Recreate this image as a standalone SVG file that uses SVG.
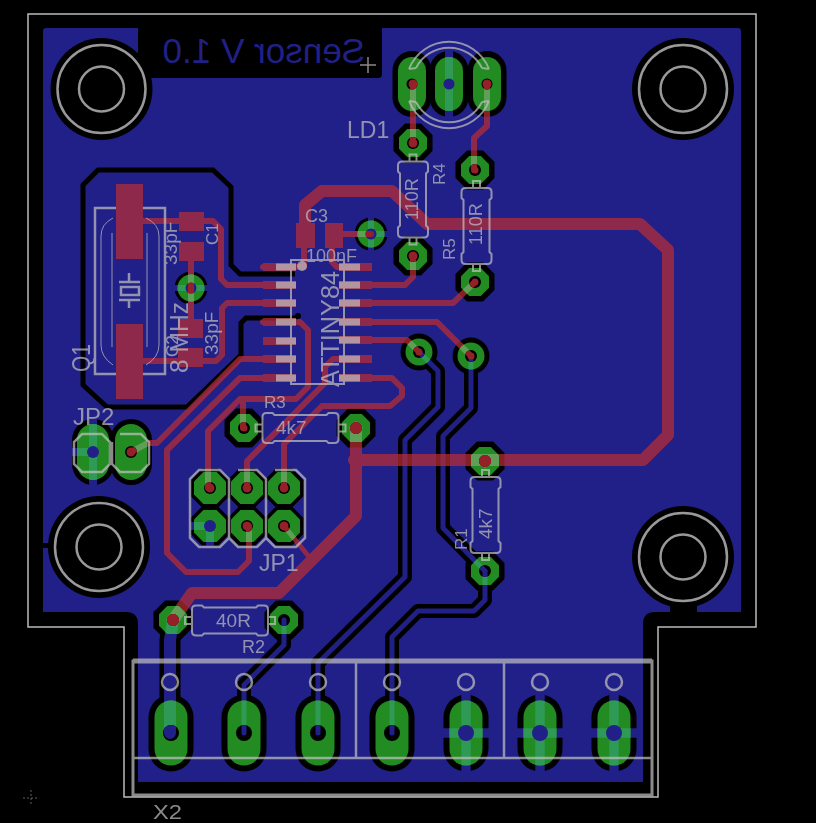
<svg xmlns="http://www.w3.org/2000/svg" width="816" height="823" viewBox="0 0 816 823">
<style>
text{font-family:"Liberation Sans",Arial,sans-serif}
.silk{fill:none;stroke:#c0c0c0;stroke-width:2}
.silk text{fill:#c0c0c0;stroke:none}
.thin{stroke-width:1}
#top path,#botT path,#botE path,#spokes path{fill:none;stroke-linecap:round;stroke-linejoin:round}
#top path.p,#spokes path{stroke-linecap:butt}
.g{fill:#228b22}
.k{fill:#000}
.b{fill:#202088}
.ring{fill:none;stroke:#999;stroke-width:2.5}
</style>
<defs>
<polygon id="o14" points="-14,-5.8 -5.8,-14 5.8,-14 14,-5.8 14,5.8 5.8,14 -5.8,14 -14,5.8"/>
<polygon id="o16" points="-16,-6.6 -6.6,-16 6.6,-16 16,-6.6 16,6.6 6.6,16 -6.6,16 -16,6.6"/>
<polygon id="k19" points="-19.5,-8 -8,-19.5 8,-19.5 19.5,-8 19.5,8 8,19.5 -8,19.5 -19.5,8"/>
<circle id="c13" r="13.5"/><circle id="k18" r="18.5"/><circle id="k16" r="16.5"/>
<rect id="ovL" x="-14" y="-27" width="28" height="54" rx="14"/>
<rect id="ovLk" x="-19.5" y="-33" width="39" height="66" rx="19.5"/>
<rect id="ovJ" x="-16" y="-28" width="32" height="56" rx="16"/>
<rect id="ovJk" x="-21" y="-33" width="42" height="66" rx="21"/>
<rect id="ovX" x="-16.5" y="-32.5" width="33" height="65" rx="16.5"/>
<rect id="ovXk" x="-22.5" y="-38.5" width="45" height="77" rx="22.5"/>
<circle id="d5" r="5.5"/><circle id="d6" r="6"/><circle id="d8" r="8"/>
<g id="hole"><circle class="ring" r="44"/><circle class="ring" r="22.5" stroke-width="3"/></g>
<path id="res" d="M-34,-15H-28L-26,-13H26L28,-15H34Q38,-15 38,-11V11Q38,15 34,15H28L26,13H-26L-28,15H-34Q-38,15 -38,11V-11Q-38,-15 -34,-15ZM-45,-3.5H-38V3.5H-45ZM38,-3.5H45V3.5H38Z"/>
<!-- bottom layer traces -->
<g id="botT">
<path d="M419,352L438,371V407L405,440V577L318,663V733"/>
<path d="M471,356V408L443,436V528L485,571"/>
<path d="M485,571V600L474,611H418L392,637V733"/>
<path d="M284,620V645L244,685V733"/>
</g>
<g id="botE"><path d="M173,620L170,640V733"/></g>
<g id="spokes">
<path stroke-width="8" d="M449,46V122"/>
<path stroke-width="8" d="M93,416V488M68,452H93"/>
<path stroke-width="8" d="M188,526H210M210,526V549"/>
<path stroke-width="6" d="M350,234H392M371,213V255"/>
<path stroke-width="6" d="M170,288H212M191,267V309"/>
<path stroke-width="9.5" d="M466,692V774M441,733H491M540,692V774M515,733H565M614,692V774M589,733H639"/>
</g>
<!-- top layer traces and smd pads -->
<g id="top">
<g stroke-width="8">
<path class="p" d="M263,267H296M263,285H296M263,303H296M263,322H296M263,341H296M263,359H296M263,378H296"/>
<path class="p" d="M339,267H372M339,285H372M339,303H372M339,322H372M339,340H372M339,359H372M339,378H372"/>
</g>
<path class="p" stroke-width="27" d="M129.5,184V259M129.5,324V399"/>
<path class="p" stroke-width="19" d="M179,221.500H204M179,251.500H204M178,328.500H203M178,357.500H203"/>
<path class="p" stroke-width="19" d="M305.500,223V248"/>
<path class="p" stroke-width="25" d="M325,235.500H343"/>
<g stroke-width="6">
<path d="M143,221H213L221,229V279L227,285H263"/>
<path d="M143,361H216L222,355V308L227,303H263"/>
<path d="M191,261V319"/>
<path d="M263,267H304V248"/>
<path d="M343,234H371"/>
<path d="M332,248V262L337,267H345"/>
<path d="M263,322H300L308,330V387L296,399H240L208,431V488"/>
<path d="M243,399V428"/>
<path d="M263,359H240L157,443H148L131,452"/>
<path d="M263,378H240L167,450V553L186,572H238L249,561V526"/>
<path d="M372,285H405L413,277V256"/>
<path d="M372,303H453L475,282"/>
<path d="M372,322H437L471,356"/>
<path d="M372,340H407L419,352"/>
<path d="M372,378H392L402,388V396L390,406H322L284,444V488"/>
<path d="M339,359H333L325,367V383L247,461V488"/>
<path d="M413,84V143"/>
<path d="M487,84V126L474,138V170"/>
<path stroke-width="5" d="M284,526L310,558"/>
</g>
<g stroke-width="12">
<path d="M305,235V205L322,191H392L427,224H640L668,250V435L643,460H354"/>
<path d="M356,428V516L279,593H192L173,620"/>
</g>
<g stroke-width="9"><path d="M413,84h0M487,84h0M413,143h0M413,256h0M210,488h0M247,488h0M284,488h0M247,526h0M284,526h0M131,452h0"/></g>
<g stroke-width="7"><path d="M475,170h0M475,282h0M419,352h0M471,356h0M244,428h0"/></g>
<g stroke-width="13"><path d="M356,428h0M485,461h0M173,620h0"/></g>
</g>
<clipPath id="pc">
<use href="#ovL" x="412" y="84"/><use href="#ovL" x="449" y="84"/><use href="#ovL" x="487" y="84"/>
<use href="#o14" x="413" y="143"/><use href="#o14" x="413" y="256"/><use href="#o14" x="475" y="170"/><use href="#o14" x="475" y="282"/>
<use href="#o14" x="356" y="428"/><use href="#o14" x="485" y="461"/><use href="#o14" x="485" y="571"/><use href="#o14" x="244" y="428"/><use href="#o14" x="173" y="620"/><use href="#o14" x="284" y="620"/>
<use href="#o16" x="210" y="488"/><use href="#o16" x="247" y="488"/><use href="#o16" x="284" y="488"/><use href="#o16" x="210" y="526"/><use href="#o16" x="247" y="526"/><use href="#o16" x="284" y="526"/>
<use href="#c13" x="419" y="352"/><use href="#c13" x="471" y="356"/><use href="#c13" x="371" y="234"/><use href="#c13" x="191" y="288"/>
<use href="#ovJ" x="93" y="452"/><use href="#ovJ" x="131" y="452"/>
<use href="#ovX" x="171" y="733"/><use href="#ovX" x="244" y="733"/><use href="#ovX" x="318" y="733"/><use href="#ovX" x="392" y="733"/><use href="#ovX" x="466" y="733"/><use href="#ovX" x="540" y="733"/><use href="#ovX" x="614" y="733"/>
</clipPath>
<clipPath id="dc">
<use href="#d5" x="412" y="84"/><use href="#d5" x="487" y="84"/>
<use href="#d6" x="413" y="143"/><use href="#d6" x="413" y="256"/><use href="#d6" x="475" y="170"/><use href="#d6" x="475" y="282"/>
<use href="#d6" x="356" y="428"/><use href="#d6" x="485" y="461"/><use href="#d6" x="485" y="571"/><use href="#d6" x="244" y="428"/><use href="#d6" x="173" y="620"/><use href="#d6" x="284" y="620"/>
<use href="#d6" x="210" y="488"/><use href="#d6" x="247" y="488"/><use href="#d6" x="284" y="488"/><use href="#d6" x="247" y="526"/><use href="#d6" x="284" y="526"/>
<use href="#d6" x="419" y="352"/><use href="#d6" x="471" y="356"/><use href="#d5" x="371" y="234"/><use href="#d5" x="191" y="288"/><use href="#d6" x="131" y="452"/>
<use href="#d8" x="171" y="733"/><use href="#d8" x="244" y="733"/><use href="#d8" x="318" y="733"/><use href="#d8" x="392" y="733"/>
</clipPath>
</defs>

<rect width="816" height="823" fill="#000"/>
<path id="outline" d="M28,14H756V627H658V797H124V627H28Z" fill="none" stroke="#bbb" stroke-width="1.500"/>
<path id="pour" class="b" d="M46,28H738Q741,28 741,31V612H655Q643,612 643,624V782H138V624Q138,612 126,612H43V31Q43,28 46,28Z"/>

<g id="keepouts" class="k">
<circle cx="101.500" cy="89" r="51"/><circle cx="683" cy="89" r="51"/><circle cx="99" cy="547" r="51"/><circle cx="683" cy="557" r="51"/>
<rect x="670" y="590" width="27" height="24"/><rect x="42" y="543" width="10" height="5"/>
<rect x="138" y="20" width="244" height="58" rx="4"/>
<use href="#ovLk" x="412" y="84"/><use href="#ovLk" x="449" y="84"/><use href="#ovLk" x="487" y="84"/>
<use href="#k19" x="413" y="143"/><use href="#k19" x="413" y="256"/><use href="#k19" x="475" y="170"/><use href="#k19" x="475" y="282"/>
<use href="#k19" x="356" y="428"/><use href="#k19" x="485" y="461"/><use href="#k19" x="485" y="571"/><use href="#k19" x="244" y="428"/><use href="#k19" x="173" y="620"/><use href="#k19" x="284" y="620"/>
<use href="#k19" x="210" y="488"/><use href="#k19" x="247" y="488"/><use href="#k19" x="284" y="488"/><use href="#k19" x="210" y="526"/><use href="#k19" x="247" y="526"/><use href="#k19" x="284" y="526"/>
<use href="#k18" x="419" y="352"/><use href="#k18" x="471" y="356"/><use href="#k16" x="371" y="234"/><use href="#k16" x="191" y="288"/>
<use href="#ovJk" x="93" y="452"/><use href="#ovJk" x="131" y="452"/>
<use href="#ovXk" x="171" y="733"/><use href="#ovXk" x="244" y="733"/><use href="#ovXk" x="318" y="733"/><use href="#ovXk" x="392" y="733"/><use href="#ovXk" x="466" y="733"/><use href="#ovXk" x="540" y="733"/><use href="#ovXk" x="614" y="733"/>
</g>
<path id="crystal-keepout" fill="none" stroke="#000" stroke-width="5" d="M295,274H240L231,265V187L213,170H98L83,185V385L107,407H187L241,355V323L246,318H298"/>
<circle cx="298" cy="316" r="3"/>

<g id="bottom-traces">
<use href="#botT" stroke="#000" stroke-width="14"/>
<use href="#botE" stroke="#000" stroke-width="21"/>
<use href="#botT" stroke="#202088" stroke-width="5"/>
<use href="#botE" stroke="#202088" stroke-width="12"/>
<use href="#spokes" stroke="#202088"/>
</g>
<text x="0" y="0" transform="translate(365,63) scale(-1,1)" font-size="35" fill="#202088">Sensor V 1.0</text>

<use id="top-traces" href="#top" style="stroke:rgb(190,46,50);opacity:.7"/>

<g id="pads" class="g">
<use href="#ovL" x="412" y="84"/><use href="#ovL" x="449" y="84"/><use href="#ovL" x="487" y="84"/>
<use href="#o14" x="413" y="143"/><use href="#o14" x="413" y="256"/><use href="#o14" x="475" y="170"/><use href="#o14" x="475" y="282"/>
<use href="#o14" x="356" y="428"/><use href="#o14" x="485" y="461"/><use href="#o14" x="485" y="571"/><use href="#o14" x="244" y="428"/><use href="#o14" x="173" y="620"/><use href="#o14" x="284" y="620"/>
<use href="#o16" x="210" y="488"/><use href="#o16" x="247" y="488"/><use href="#o16" x="284" y="488"/><use href="#o16" x="210" y="526"/><use href="#o16" x="247" y="526"/><use href="#o16" x="284" y="526"/>
<use href="#c13" x="419" y="352"/><use href="#c13" x="471" y="356"/><use href="#c13" x="371" y="234"/><use href="#c13" x="191" y="288"/>
<use href="#ovJ" x="93" y="452"/><use href="#ovJ" x="131" y="452"/>
<use href="#ovX" x="171" y="733"/><use href="#ovX" x="244" y="733"/><use href="#ovX" x="318" y="733"/><use href="#ovX" x="392" y="733"/><use href="#ovX" x="466" y="733"/><use href="#ovX" x="540" y="733"/><use href="#ovX" x="614" y="733"/>
</g>
<g id="pad-overlap" clip-path="url(#pc)">
<use href="#botT" stroke="#2f9a55" stroke-width="5"/>
<use href="#botE" stroke="#2f9a55" stroke-width="12"/>
<use href="#spokes" stroke="#2f9a55"/>
<use href="#top" stroke="#5f9f58"/>
</g>
<g id="drills">
<g class="k"><use href="#d5" x="412" y="84"/><use href="#d5" x="487" y="84"/>
<use href="#d6" x="413" y="143"/><use href="#d6" x="413" y="256"/><use href="#d6" x="475" y="170"/><use href="#d6" x="475" y="282"/>
<use href="#d6" x="356" y="428"/><use href="#d6" x="485" y="461"/><use href="#d6" x="485" y="571"/><use href="#d6" x="244" y="428"/><use href="#d6" x="173" y="620"/><use href="#d6" x="284" y="620"/>
<use href="#d6" x="210" y="488"/><use href="#d6" x="247" y="488"/><use href="#d6" x="284" y="488"/><use href="#d6" x="247" y="526"/><use href="#d6" x="284" y="526"/>
<use href="#d6" x="419" y="352"/><use href="#d6" x="471" y="356"/><use href="#d6" x="131" y="452"/>
<use href="#d8" x="171" y="733"/><use href="#d8" x="244" y="733"/><use href="#d8" x="318" y="733"/><use href="#d8" x="392" y="733"/></g>
<g class="b"><use href="#d5" x="449" y="84"/><use href="#d6" x="93" y="452"/><use href="#d6" x="210" y="526"/><use href="#d8" x="466" y="733"/><use href="#d8" x="540" y="733"/><use href="#d8" x="614" y="733"/><use href="#d5" x="371" y="234"/><use href="#d5" x="191" y="288"/></g>
<g clip-path="url(#dc)">
<use href="#botT" stroke="#202088" stroke-width="5"/>
<use href="#botE" stroke="#202088" stroke-width="12"/>
<use href="#top" stroke="#962028"/>
</g>
</g>

<g id="holes"><use href="#hole" x="101.500" y="89"/><use href="#hole" x="683" y="89"/><use href="#hole" x="99" y="547"/><use href="#hole" x="683" y="557"/></g>

<g id="silkscreen" class="silk" opacity=".72">
<g id="IC1"><rect x="291" y="260" width="53" height="124"/>
<circle cx="302" cy="266" r="4" fill="#c0c0c0"/>
<path fill="#c0c0c0" stroke="none" d="M276,263.500h20v7h-20zM276,281.500h20v7h-20zM276,299.500h20v7h-20zM276,318.500h20v7h-20zM276,337.500h20v7h-20zM276,355.500h20v7h-20zM276,374.500h20v7h-20zM339,263.500h21v7h-21zM339,281.500h21v7h-21zM339,299.500h21v7h-21zM339,318.500h21v7h-21zM339,336.500h21v7h-21zM339,355.500h21v7h-21zM339,374.500h21v7h-21z"/>
<text transform="translate(339,387) rotate(-90)" font-size="25" textLength="116" lengthAdjust="spacingAndGlyphs">ATTINY84</text></g>
<g id="Q1"><path stroke-width="2.500" d="M116,208H95V374H116M143,208H165V374H143"/>
<path class="thin" d="M113,218Q101,224 101,236V345Q101,357 113,365M146,218Q159,224 159,236V345Q159,357 146,365M112,233V347M147,233V347"/>
<path stroke-width="2.500" d="M129,273V282M119,282H140M121,287H139V295H121ZM119,300H140M129,301V308"/>
<text transform="translate(90,372) rotate(-90)" font-size="25" textLength="28" lengthAdjust="spacingAndGlyphs">Q1</text>
<text transform="translate(188,373) rotate(-90)" font-size="25" textLength="71" lengthAdjust="spacingAndGlyphs">8 MHz</text></g>
<g id="C1"><text transform="translate(177,265) rotate(-90)" font-size="19">33pF</text>
<text transform="translate(218,245) rotate(-90)" font-size="17">C1</text></g>
<g id="C2"><text transform="translate(218,355) rotate(-90)" font-size="19">33pF</text>
<text transform="translate(178,357) rotate(-90)" font-size="17">C2</text></g>
<g id="C3"><text x="305" y="222" font-size="18">C3</text><text x="306" y="262" font-size="18">100nF</text></g>
<g id="LD1"><path stroke-width="2" d="M409,69A43,43 0 0 1 489,69M409,101A43,43 0 0 0 489,101M416,68A37,37 0 0 1 482,68M416,102A37,37 0 0 0 482,102M409,69L416,68M489,69L482,68M409,101L416,102M489,101L482,102"/>
<text x="347" y="138" font-size="23">LD1</text></g>
<g id="R4"><use href="#res" transform="translate(413,199.500) rotate(90)"/><text transform="translate(418,220) rotate(-90)" font-size="18">110R</text><text transform="translate(445,185) rotate(-90)" font-size="17">R4</text></g>
<g id="R5"><use href="#res" transform="translate(476.500,226) rotate(90)"/><text transform="translate(482,245) rotate(-90)" font-size="18">110R</text><text transform="translate(455,260) rotate(-90)" font-size="17">R5</text></g>
<g id="R1"><use href="#res" transform="translate(485.500,515) rotate(90)"/><text transform="translate(492,539) rotate(-90)" font-size="19">4k7</text><text transform="translate(467,550) rotate(-90)" font-size="17">R1</text></g>
<g id="R3"><use href="#res" x="300.500" y="428"/><text x="276" y="434" font-size="19">4k7</text><text x="264" y="408" font-size="17">R3</text></g>
<g id="R2"><use href="#res" x="230" y="620.500"/><text x="216" y="627" font-size="19">40R</text><text x="242" y="653" font-size="18">R2</text></g>
<g id="JP1"><path stroke-width="2.500" d="M199,470H220L229,479V538L220,547H199L190,538V479ZM238,470H257L266,479V538L257,547H238L229,538V479M275,470H296L305,479V538L296,547H275L266,538V479"/><text x="259" y="571" font-size="23">JP1</text></g>
<g id="JP2"><path stroke-width="2.500" d="M82,434H102L110,442V464L102,472H82L74,464V442ZM120,434H141L149,442V464L141,472H120L112,464V442"/><text x="73" y="425" font-size="24">JP2</text></g>
<g id="X2"><path stroke-width="3" d="M133,661H652V795H133Z"/><path stroke-width="5" d="M133,661H652"/><path stroke-width="2.500" d="M133,758H652M356,661V758M504,661V758"/>
<g stroke-width="2.500"><circle cx="170" cy="682" r="8"/><circle cx="244" cy="682" r="8"/><circle cx="318" cy="682" r="8"/><circle cx="392" cy="682" r="8"/><circle cx="466" cy="682" r="8"/><circle cx="540" cy="682" r="8"/><circle cx="614" cy="682" r="8"/></g>
<text x="153" y="819" font-size="21" textLength="29" lengthAdjust="spacingAndGlyphs">X2</text></g>
<path stroke-width="1.500" d="M360,65H376M368,57V73"/>
<path stroke-width="1" stroke="#888" d="M31,790V806M23,798H39" stroke-dasharray="2 2"/>
</g>
</svg>
